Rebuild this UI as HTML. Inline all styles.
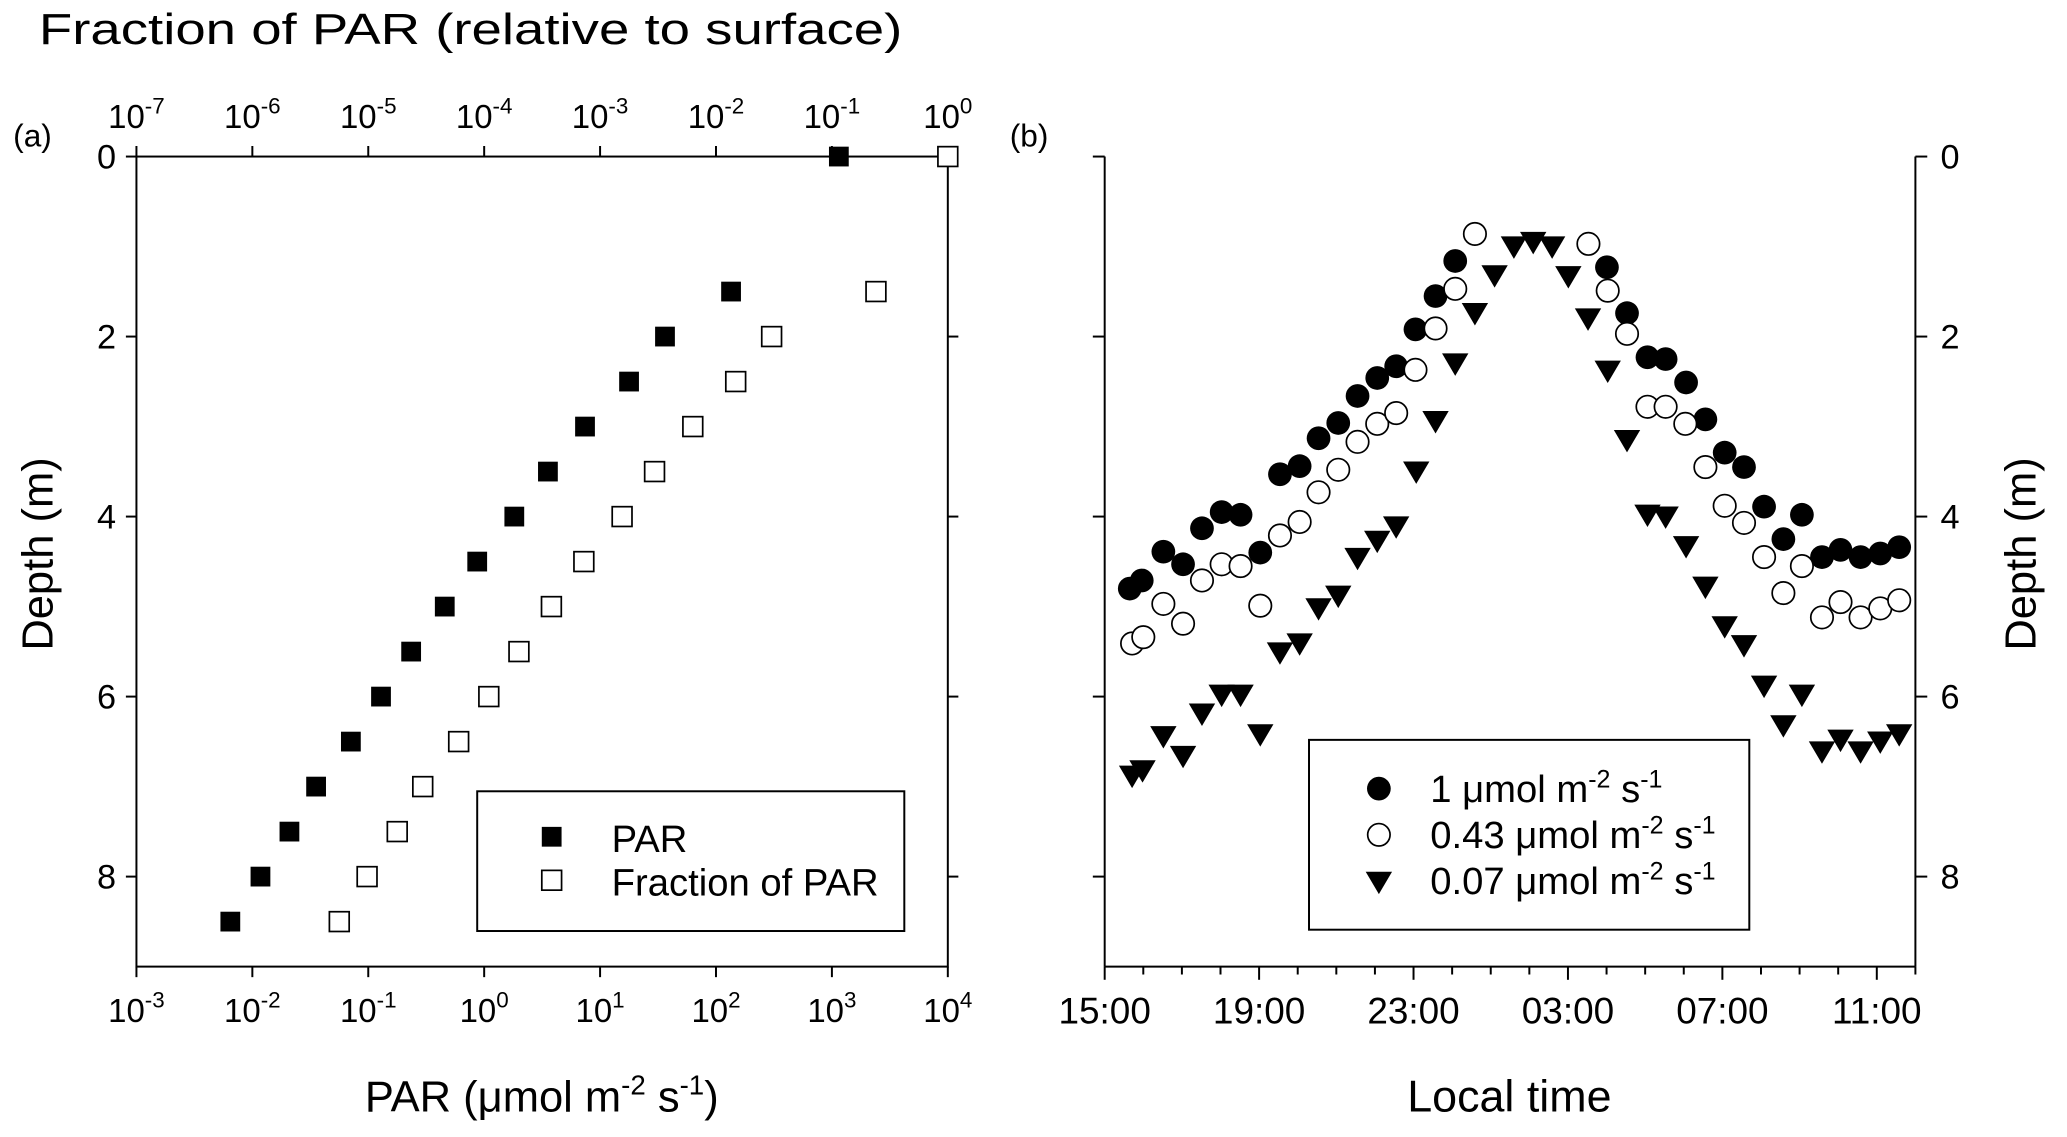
<!DOCTYPE html>
<html><head><meta charset="utf-8">
<style>
html,body{margin:0;padding:0;background:#fff;}
svg{display:block;font-family:"Liberation Sans",Arial,sans-serif;}
</style></head>
<body>
<svg id="chart" width="2067" height="1137" viewBox="0 0 1568 862" xmlns="http://www.w3.org/2000/svg">
<rect x="0" y="0" width="1568" height="862" fill="#fff"/>
<g id="pa"></g>
<g id="pb"></g>
</svg>
<script>
// Panel (a) data
const depthsA = [0,1.5,2,2.5,3,3.5,4,4.5,5,5.5,6,6.5,7,7.5,8,8.5];
const parLog = [3.06,2.13,1.56,1.25,0.87,0.55,0.26,-0.06,-0.34,-0.63,-0.89,-1.15,-1.45,-1.68,-1.93,-2.19];
const fracLog = [0,-0.62,-1.52,-1.83,-2.20,-2.53,-2.81,-3.14,-3.42,-3.70,-3.96,-4.22,-4.53,-4.75,-5.01,-5.25];
const bottomExp = [-3,-2,-1,0,1,2,3,4];
const topExp = [-7,-6,-5,-4,-3,-2,-1,0];
const depthTicks = [0,2,4,6,8];
// Panel (b) data (hours since 15:00)
const hours1 = [0.65,0.96,1.52,2.03,2.52,3.03,3.52,4.03,4.54,5.05,5.54,6.05,6.55,7.06,7.55,8.05,8.57,9.08,13.01,13.53,14.06,14.53,15.06,15.56,16.06,16.56,17.08,17.58,18.06,18.58,19.06,19.58,20.09,20.58];
const depth1 = [4.80,4.71,4.39,4.53,4.13,3.95,3.98,4.40,3.53,3.44,3.13,2.96,2.66,2.46,2.33,1.92,1.55,1.16,1.23,1.74,2.23,2.25,2.51,2.92,3.29,3.45,3.89,4.25,3.98,4.45,4.37,4.45,4.41,4.34];
const hours043 = [0.71,1.00,1.52,2.03,2.52,3.03,3.52,4.03,4.54,5.05,5.54,6.05,6.55,7.06,7.55,8.05,8.57,9.08,9.59,12.53,13.03,13.53,14.06,14.53,15.04,15.56,16.06,16.56,17.08,17.58,18.06,18.58,19.06,19.58,20.09,20.58];
const depth043 = [5.41,5.34,4.97,5.19,4.71,4.53,4.55,4.99,4.21,4.06,3.73,3.48,3.17,2.97,2.85,2.37,1.91,1.47,0.86,0.97,1.49,1.97,2.78,2.78,2.97,3.45,3.88,4.07,4.45,4.85,4.55,5.12,4.95,5.12,5.02,4.93];
const hours007 = [0.71,0.98,1.52,2.03,2.52,3.03,3.52,4.03,4.54,5.05,5.54,6.05,6.55,7.06,7.55,8.07,8.57,9.08,9.59,10.10,10.60,11.10,11.59,12.01,12.52,13.03,13.53,14.06,14.53,15.06,15.56,16.06,16.56,17.08,17.58,18.06,18.58,19.06,19.58,20.09,20.58];
const depth007 = [6.87,6.81,6.43,6.65,6.18,5.97,5.97,6.41,5.50,5.40,5.01,4.87,4.45,4.26,4.10,3.49,2.93,2.29,1.73,1.31,0.99,0.94,0.99,1.32,1.79,2.37,3.14,3.97,3.99,4.32,4.77,5.21,5.42,5.87,6.31,5.97,6.60,6.47,6.60,6.49,6.41];
const timeLabels = ["15:00","19:00","23:00","03:00","07:00","11:00"];

const NS="http://www.w3.org/2000/svg";
function mk(parent,tag,attrs,text){const e=document.createElementNS(NS,tag);for(const k in attrs)e.setAttribute(k,attrs[k]);if(text!==undefined)e.textContent=text;parent.appendChild(e);return e;}

const Y0=118.5, Y1=733, DMAX=9;
const yD=d=>Y0+(Y1-Y0)*d/DMAX;
const AX0=103.5, AX1=719;
const xBot=l=>AX0+(AX1-AX0)*(l+3)/7;
const xTop=l=>AX0+(AX1-AX0)*(l+7)/7;
const BX0=838, BX1=1453;
const xH=h=>BX0+(BX1-BX0)*h/21;

const pa=document.getElementById('pa');
const pb=document.getElementById('pb');
const S={stroke:'#000','stroke-width':1.5,fill:'none'};

let e=mk(pa,'rect',{x:AX0,y:Y0,width:AX1-AX0,height:Y1-Y0,fill:'none',stroke:'#000','stroke-width':1.5});

bottomExp.forEach(p=>{const x=xBot(p);
 e=mk(pa,'line',{x1:x,y1:Y1,x2:x,y2:Y1+8,...S});
 
 const t=mk(pa,'text',{x:x,y:775,'text-anchor':'middle','font-size':25});
 
 t.textContent='10';mk(t,'tspan',{dy:-11,'font-size':17},String(p));
});
topExp.forEach(p=>{const x=xTop(p);
 e=mk(pa,'line',{x1:x,y1:Y0,x2:x,y2:Y0-8,...S});
 
 const t=mk(pa,'text',{x:x,y:97,'text-anchor':'middle','font-size':25});
 
 t.textContent='10';mk(t,'tspan',{dy:-11,'font-size':17},String(p));
});
depthTicks.forEach(d=>{const y=yD(d);
 e=mk(pa,'line',{x1:AX0,y1:y,x2:AX0-8,y2:y,...S});
 
 e=mk(pa,'line',{x1:AX1,y1:y,x2:AX1+8,y2:y,...S});
 
 e=mk(pa,'text',{x:88,y:y+9,'text-anchor':'end','font-size':26},String(d));
 
});
depthsA.forEach((d,i)=>{
 const s=15;
 e=mk(pa,'rect',{x:xBot(parLog[i])-s/2,y:yD(d)-s/2,width:s,height:s,fill:'#000'});
 
 e=mk(pa,'rect',{x:xTop(fracLog[i])-s/2,y:yD(d)-s/2,width:s,height:s,fill:'#fff',stroke:'#000','stroke-width':1.3});
 
});

e=mk(pb,'line',{x1:BX0,y1:Y0,x2:BX0,y2:Y1,...S});
e=mk(pb,'line',{x1:BX1,y1:Y0,x2:BX1,y2:Y1,...S});
e=mk(pb,'line',{x1:BX0,y1:Y1,x2:BX1,y2:Y1,...S});
for(let h=0;h<=21;h++){const x=xH(h);const major=h%4===0;
 e=mk(pb,'line',{x1:x,y1:Y1,x2:x,y2:Y1+(major?10:6),...S});
 
}
timeLabels.forEach((lab,i)=>{
 e=mk(pb,'text',{x:xH(i*4),y:776,'text-anchor':'middle','font-size':28},lab);
 
});
depthTicks.forEach(d=>{const y=yD(d);
 e=mk(pb,'line',{x1:BX0,y1:y,x2:BX0-9,y2:y,...S});
 
 e=mk(pb,'line',{x1:BX1,y1:y,x2:BX1+9,y2:y,...S});
 
 e=mk(pb,'text',{x:1472,y:y+9,'text-anchor':'start','font-size':26},String(d));
 
});
hours1.forEach((h,i)=>{
 e=mk(pb,'circle',{cx:xH(h),cy:yD(depth1[i]),r:9,fill:'#000'});
 
});
hours043.forEach((h,i)=>{
 e=mk(pb,'circle',{cx:xH(h),cy:yD(depth043[i]),r:8.5,fill:'#fff',stroke:'#000','stroke-width':1.3});
 
});
function tri(x,y){return `${x-10},${y-7} ${x+10},${y-7} ${x},${y+10}`;}
hours007.forEach((h,i)=>{
 e=mk(pb,'polygon',{points:tri(xH(h),yD(depth007[i])),fill:'#000'});
 
});
</script>
<svg style="position:absolute;left:0;top:0" width="2067" height="1137" viewBox="0 0 1568 862" xmlns="http://www.w3.org/2000/svg" font-family="Liberation Sans, Arial, sans-serif">
<text x="10" y="111" font-size="24">(a)</text>
<text x="766" y="111" font-size="24">(b)</text>
<text x="357" y="33" font-size="33" text-anchor="middle" textLength="655" lengthAdjust="spacingAndGlyphs">Fraction of PAR (relative to surface)</text>
<text x="411" y="843" font-size="33" text-anchor="middle">PAR (μmol m<tspan dy="-13" font-size="21">-2</tspan><tspan dy="13"> s</tspan><tspan dy="-13" font-size="21">-1</tspan><tspan dy="13">)</tspan></text>
<text x="1145" y="843" font-size="34" text-anchor="middle">Local time</text>
<text transform="translate(40,420) rotate(-90)" font-size="33" text-anchor="middle">Depth (m)</text>
<text transform="translate(1544,420) rotate(-90)" font-size="33" text-anchor="middle">Depth (m)</text>
<g>
<rect x="362" y="600" width="324" height="106" fill="#fff" stroke="#000" stroke-width="1.5"/>
<rect x="411" y="627" width="15" height="15" fill="#000"/>
<text x="464" y="646" font-size="29">PAR</text>
<rect x="411" y="660" width="15" height="15" fill="#fff" stroke="#000" stroke-width="1.3"/>
<text x="464" y="679" font-size="29">Fraction of PAR</text>
</g>
<g>
<rect x="993" y="561" width="334" height="144" fill="#fff" stroke="#000" stroke-width="1.5"/>
<circle cx="1046" cy="598" r="9" fill="#000"/>
<text x="1085" y="608" font-size="29">1 μmol m<tspan dy="-11" font-size="19">-2</tspan><tspan dy="11"> s</tspan><tspan dy="-11" font-size="19">-1</tspan></text>
<circle cx="1046" cy="633" r="8.5" fill="#fff" stroke="#000" stroke-width="1.3"/>
<text x="1085" y="643" font-size="29">0.43 μmol m<tspan dy="-11" font-size="19">-2</tspan><tspan dy="11"> s</tspan><tspan dy="-11" font-size="19">-1</tspan></text>
<polygon points="1036,661 1056,661 1046,678" fill="#000"/>
<text x="1085" y="678" font-size="29">0.07 μmol m<tspan dy="-11" font-size="19">-2</tspan><tspan dy="11"> s</tspan><tspan dy="-11" font-size="19">-1</tspan></text>
</g>
</svg>
</body></html>
